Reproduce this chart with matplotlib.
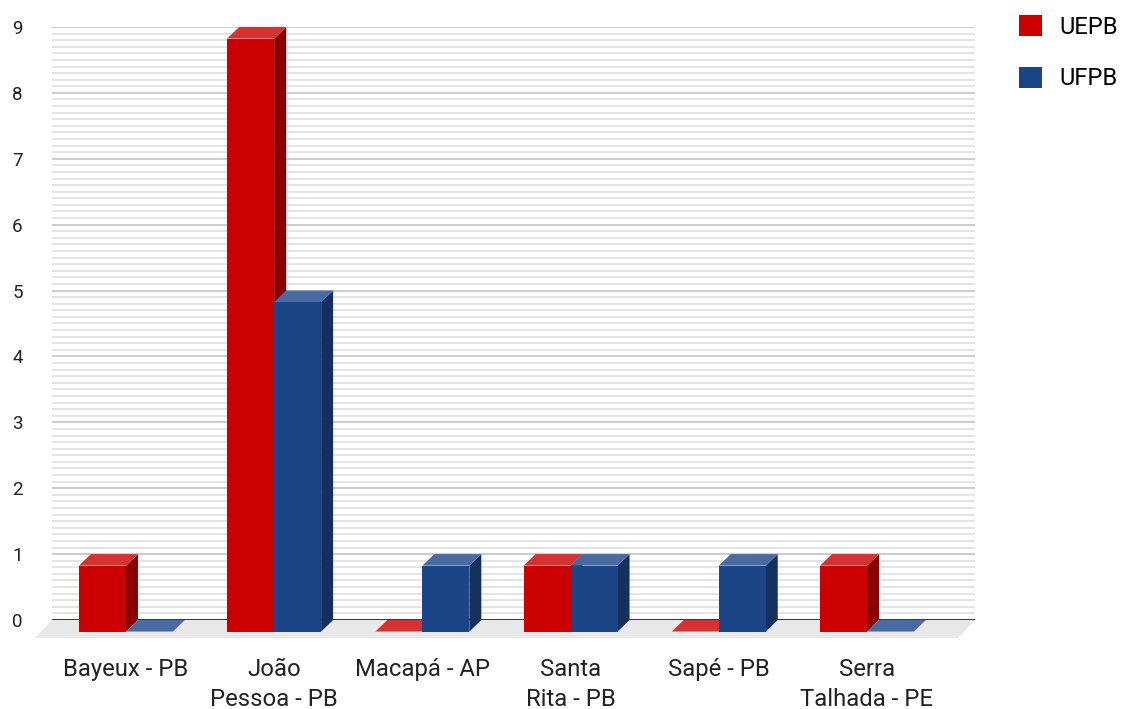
import matplotlib
matplotlib.use("Agg")
import matplotlib.pyplot as plt
from matplotlib.patches import Polygon, Patch
from matplotlib.ticker import MultipleLocator

plt.rcParams['font.family'] = ['Roboto', 'DejaVu Sans']

cidades = ["Bayeux - PB", "João\nPessoa - PB", "Macapá - AP",
           "Santa\nRita - PB", "Sapé - PB", "Serra\nTalhada - PE"]
uepb = [1, 9, 0, 1, 0, 1]
ufpb = [0, 5, 1, 1, 1, 0]

# name, values, front / top / side colour
series = [("UEPB", uepb, "#cc0000", "#d63232", "#8c0000"),
          ("UFPB", ufpb, "#1c4587", "#4a6aa2", "#13305e")]

fig = plt.figure(figsize=(11.22, 7.09), dpi=100)
ax = fig.add_axes([52/1122, 1 - 620/709, 923/1122, 593/709])

w = 0.317     # bar width (category units)
dx = 0.081    # depth offset x
dy = 0.175    # depth offset y (value units)
fdx = 0.115   # floor depth
fdy = 0.273

xl, xr = -0.58, 5.648
ax.set_xlim(xl, xr)
ax.set_ylim(0, 9)

# grid on the back wall
ax.yaxis.set_minor_locator(MultipleLocator(0.1))
ax.set_yticks(range(10))
ax.grid(which='minor', axis='y', color='#e2e2e2', lw=1.3, zorder=0)
ax.grid(which='major', axis='y', color='#c8c8c8', lw=1.3, zorder=0)
ax.set_axisbelow(True)
for s in ax.spines.values():
    s.set_visible(False)

# floor
floor = Polygon([(xl, 0), (xr, 0), (xr - fdx, -fdy), (xl - fdx, -fdy)],
                closed=True, facecolor='#e8e8e8', edgecolor='none',
                clip_on=False, zorder=1)
ax.add_patch(floor)
ax.axhline(0, color='#333333', lw=1.4, zorder=2)

z = 3
for i in range(len(cidades)):
    for k, (nome, vals, cf, ct, cs) in enumerate(series):
        v = vals[i]
        x0 = i - w + k * w
        top = [(x0 - dx, v - dy), (x0 + w - dx, v - dy), (x0 + w, v), (x0, v)]
        if v > 0:
            side = [(x0 + w - dx, -dy), (x0 + w, 0), (x0 + w, v), (x0 + w - dx, v - dy)]
            front = [(x0 - dx, -dy), (x0 + w - dx, -dy), (x0 + w - dx, v - dy), (x0 - dx, v - dy)]
            ax.add_patch(Polygon(side, closed=True, facecolor=cs, edgecolor='none', clip_on=False, zorder=z))
            ax.add_patch(Polygon(top, closed=True, facecolor=ct, edgecolor='none', clip_on=False, zorder=z))
            ax.add_patch(Polygon(front, closed=True, facecolor=cf, edgecolor='none', clip_on=False, zorder=z))
        else:
            ax.add_patch(Polygon(top, closed=True, facecolor=ct, edgecolor='none', clip_on=False, zorder=z))
        z += 1

ax.set_xticks([i - dx for i in range(len(cidades))])
ax.set_xticklabels(cidades, fontsize=17.2, color='#222222', linespacing=1.4)
ax.tick_params(axis='x', which='both', length=0, pad=27.5)
ax.tick_params(axis='y', which='both', length=0, pad=21, labelsize=13.5, labelcolor='#222222')

handles = [Patch(facecolor=s[2], edgecolor='none') for s in series]
fig.legend(handles, [s[0] for s in series], loc='upper left',
           bbox_to_anchor=(1019/1122, 1 - 15/709), frameon=False,
           fontsize=17, handlelength=0.98, handleheight=0.98,
           handletextpad=0.72, labelspacing=1.2, borderpad=0, borderaxespad=0)

fig.savefig("out.png", dpi=100)
